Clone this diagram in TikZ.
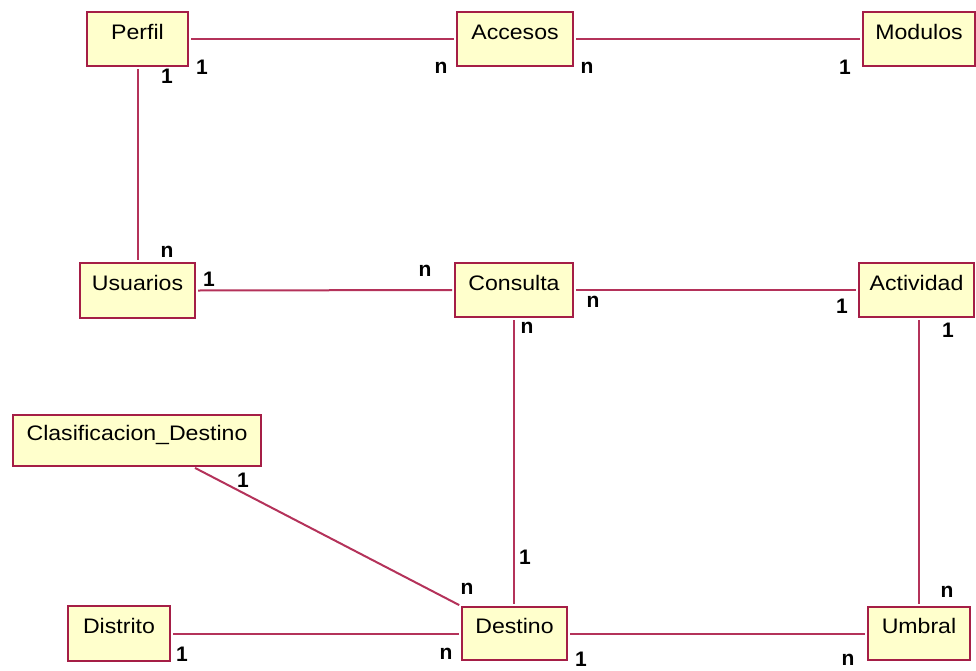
\documentclass[tikz,border=0pt]{standalone}
\usepackage{fontspec}
\setmainfont{Liberation Sans}
\newfontfamily\boxfont[FakeStretch=1.1]{Liberation Sans}
\usetikzlibrary{calc}
\definecolor{boxfill}{RGB}{255,255,204}
\definecolor{boxline}{RGB}{165,30,70}
\definecolor{relline}{RGB}{180,50,90}
\tikzset{
  ent/.style={draw=boxline, line width=2pt, fill=boxfill, anchor=north west,
    inner sep=0pt, text height=15pt, text depth=15pt, font=\boxfont\fontsize{21}{24}\selectfont},
  rel/.style={draw=relline, line width=2pt, shorten <=2pt, shorten >=2pt},
  card/.style={font=\bfseries\fontsize{21}{23}\selectfont, inner sep=0pt}
}
\begin{document}
\begin{tikzpicture}[x=1pt,y=-1pt]
\useasboundingbox (0,0) rectangle (976,670);
% entities
\node[ent, minimum width=101pt, minimum height=54pt] (perfil) at (86,11) {Perfil};
\node[ent, minimum width=116pt, minimum height=54pt] (accesos) at (456,11) {Accesos};
\node[ent, minimum width=112pt, minimum height=54pt] (modulos) at (862,11) {Modulos};
\node[ent, minimum width=115pt, minimum height=55pt] (usuarios) at (79,262) {Usuarios};
\node[ent, minimum width=118pt, minimum height=54pt] (consulta) at (454,262) {Consulta};
\node[ent, minimum width=115pt, minimum height=54pt] (actividad) at (858,262) {Actividad};
\node[ent, minimum width=248pt, minimum height=51pt] (clasif) at (12,414) {Clasificacion\_Destino};
\node[ent, minimum width=102pt, minimum height=55pt] (distrito) at (67,605) {Distrito};
\node[ent, minimum width=105pt, minimum height=53pt] (destino) at (461,606) {Destino};
\node[ent, minimum width=102pt, minimum height=53pt] (umbral) at (867,606) {Umbral};
% relations
\draw[rel] (perfil.east) -- (accesos.west);
\draw[rel] (accesos.east) -- (modulos.west);
\draw[rel] (perfil.south) -- (perfil.south |- usuarios.north);
\draw[rel] (usuarios.east) -- (consulta.west);
\draw[rel] (consulta.east) -- (actividad.west);
\draw[rel] (consulta.south) -- (consulta.south |- destino.north);
\draw[rel] (umbral.north |- actividad.south) -- (umbral.north);
\coordinate (clasend) at ($(clasif.south west)!0.725!(clasif.south east)$);
\draw[rel] (clasend) -- (destino.north west);
\draw[rel] (distrito.east) -- (destino.west);
\draw[rel] (destino.east) -- (umbral.west);
% cardinalities
\node[card] (c1) at (167,76) {1};
\node[card] (c2) at (202,67) {1};
\node[card] (c3) at (441,68) {n};
\node[card] (c4) at (587,68) {n};
\node[card] (c5) at (845,67) {1};
\node[card] (c6) at (167,252) {n};
\node[card] (c7) at (209,279) {1};
\node[card] (c8) at (425,271) {n};
\node[card] (c9) at (593,302) {n};
\node[card] (c10) at (527,328) {n};
\node[card] (c11) at (842,306) {1};
\node[card] (c12) at (948,330) {1};
\node[card] (c13) at (243,480) {1};
\node[card] (c14) at (525,557) {1};
\node[card] (c15) at (467,589) {n};
\node[card] (c16) at (947,592) {n};
\node[card] (c17) at (182,654) {1};
\node[card] (c18) at (446,654) {n};
\node[card] (c19) at (581,659) {1};
\node[card] (c20) at (848,660) {n};
\end{tikzpicture}
\end{document}
